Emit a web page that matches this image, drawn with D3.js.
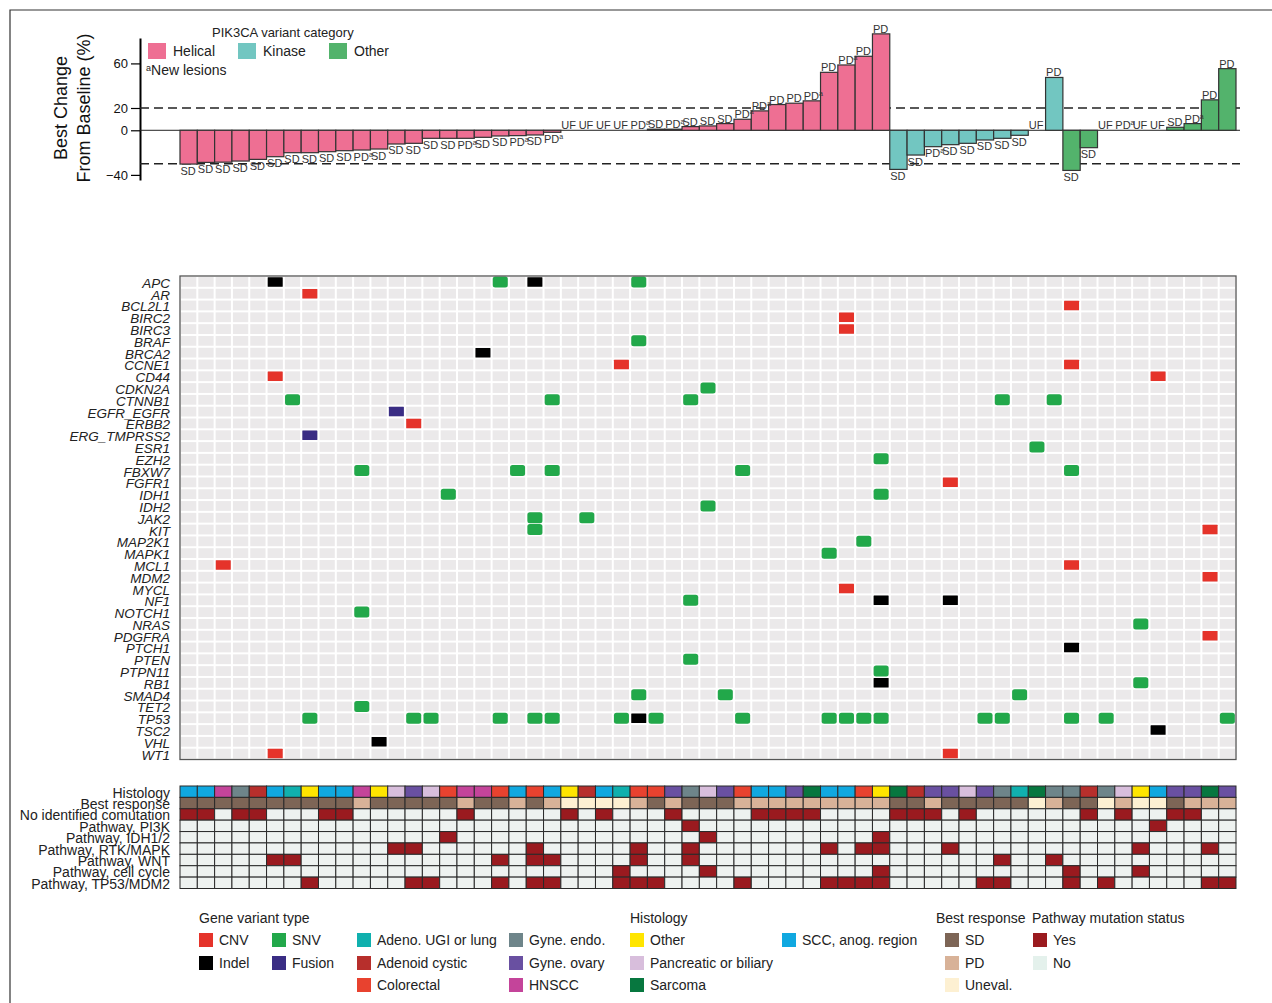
<!DOCTYPE html>
<html>
<head>
<meta charset="utf-8">
<script src="https://cdn.jsdelivr.net/npm/d3@7"></script>
<style>
  body { margin: 0; background: #fff; }
  svg { display: block; font-family: "Liberation Sans", Arial, sans-serif; }
</style>
</head>
<body>
<svg id="chart" width="1272" height="1003"></svg>
<script>
// ---- data ----
const bestChange = [
  -30.3, -28.8, -28.6, -27.6, -26.1, -23.7, -20.1, -20.1, -19.2, -18.3,
  -17.7, -16.8, -12.3, -11.7, -7.2, -7.2, -7.2, -6.3, -5.1, -4.8,
  -4.2, -1.8, 0, 0, 0, 0, 0, 1, 1, 3.3,
  3.9, 6, 9.9, 17.4, 23.1, 24.3, 26.4, 52, 58.6, 66.4,
  86.5, -35.1, -22.2, -14.7, -12.9, -11.7, -8.7, -7.2, -4.5, 0,
  47.4, -36, -15.6, 0, 0, 0, 0, 2.7, 6, 27.3,
  55.3
];
const variantCategory = [
  "Helical","Helical","Helical","Helical","Helical","Helical","Helical","Helical","Helical","Helical",
  "Helical","Helical","Helical","Helical","Helical","Helical","Helical","Helical","Helical","Helical",
  "Helical","Helical","Helical","Helical","Helical","Helical","Helical","Helical","Helical","Helical",
  "Helical","Helical","Helical","Helical","Helical","Helical","Helical","Helical","Helical","Helical",
  "Helical","Kinase","Kinase","Kinase","Kinase","Kinase","Kinase","Kinase","Kinase","Kinase",
  "Kinase","Other","Other","Other","Other","Other","Other","Other","Other","Other",
  "Other"
];
const responseLabels = [
  "SD","SD","SD","SD","SD","SD","SD","SD","SD","SD",
  "PD","SD","SD","SD","SD","SD","PD","SD","SD","PD",
  "SD","PD","UF","UF","UF","UF","PD","SD","PD","SD",
  "SD","SD","PD","PD","PD","PD","PD","PD","PD","PD",
  "PD","SD","SD","PD","SD","SD","SD","SD","SD","UF",
  "PD","SD","SD","UF","PD","UF","UF","SD","PD","PD",
  "PD"
];
const newLesions = [10, 16, 19, 21, 26, 28, 32, 33, 36, 38, 43, 54, 58];

const histology = [
  "SCC","SCC","HNSCC","GyneEndo","AdenoidCystic","SCC","AdenoUGI","Other","SCC","SCC",
  "HNSCC","Other","Pancreatic","GyneOvary","Pancreatic","Colorectal","HNSCC","HNSCC","Colorectal","SCC",
  "Colorectal","SCC","Other","AdenoidCystic","SCC","AdenoUGI","Colorectal","Colorectal","GyneOvary","GyneEndo",
  "Pancreatic","GyneOvary","Colorectal","SCC","SCC","GyneOvary","Sarcoma","SCC","SCC","Colorectal",
  "Other","Sarcoma","AdenoidCystic","GyneOvary","GyneOvary","Pancreatic","GyneOvary","GyneEndo","AdenoUGI","Sarcoma",
  "GyneEndo","GyneEndo","AdenoidCystic","GyneEndo","Pancreatic","Other","SCC","GyneOvary","GyneOvary","Sarcoma",
  "GyneOvary"
];

const genes = ["APC","AR","BCL2L1","BIRC2","BIRC3","BRAF","BRCA2","CCNE1","CD44","CDKN2A",
  "CTNNB1","EGFR_EGFR","ERBB2","ERG_TMPRSS2","ESR1","EZH2","FBXW7","FGFR1","IDH1","IDH2",
  "JAK2","KIT","MAP2K1","MAPK1","MCL1","MDM2","MYCL","NF1","NOTCH1","NRAS",
  "PDGFRA","PTCH1","PTEN","PTPN11","RB1","SMAD4","TET2","TP53","TSC2","VHL","WT1"];

const snvHits = [
  ["APC",18],["APC",26],["BRAF",26],["CDKN2A",30],
  ["CTNNB1",6],["CTNNB1",21],["CTNNB1",29],["CTNNB1",47],["CTNNB1",50],
  ["ESR1",49],["EZH2",40],
  ["FBXW7",10],["FBXW7",19],["FBXW7",21],["FBXW7",32],["FBXW7",51],
  ["IDH1",15],["IDH1",40],["IDH2",30],["JAK2",20],["JAK2",23],["KIT",20],
  ["MAP2K1",39],["MAPK1",37],["NF1",29],["NOTCH1",10],["NRAS",55],["PTEN",29],
  ["PTPN11",40],["RB1",55],["SMAD4",26],["SMAD4",31],["SMAD4",48],["TET2",10],
  ["TP53",7],["TP53",13],["TP53",14],["TP53",18],["TP53",20],["TP53",21],["TP53",25],
  ["TP53",27],["TP53",32],["TP53",37],["TP53",38],["TP53",39],["TP53",40],["TP53",46],
  ["TP53",47],["TP53",51],["TP53",53],["TP53",60]
];
const cnvHits = [
  ["AR",7],["BCL2L1",51],["BIRC2",38],["BIRC3",38],["CCNE1",25],["CCNE1",51],
  ["CD44",5],["CD44",56],["ERBB2",13],["FGFR1",44],["KIT",59],["MCL1",2],["MCL1",51],
  ["MDM2",59],["MYCL",38],["PDGFRA",59],["WT1",5],["WT1",44]
];
const indelHits = [
  ["APC",5],["APC",20],["BRCA2",17],["NF1",40],["NF1",44],["PTCH1",51],["RB1",40],
  ["TP53",26],["TSC2",56],["VHL",11]
];
const fusionHits = [["EGFR_EGFR",12],["ERG_TMPRSS2",7]];

const trackNames = ["Histology","Best response","No identified comutation","Pathway, PI3K",
  "Pathway, IDH1/2","Pathway, RTK/MAPK","Pathway, WNT","Pathway, cell cycle","Pathway, TP53/MDM2"];
const noComutation = [0,1,3,4,8,9,16,22,24,28,33,34,35,36,41,42,43,45,52,54,57,58];
const pathPI3K = [29,56];
const pathIDH = [15,30,40];
const pathRTK = [12,13,20,26,29,37,39,40,44,55,59];
const pathWNT = [5,6,18,20,21,26,29,47,50];
const pathCellCycle = [25,30,40,51,55];
const pathTP53 = [7,13,14,18,20,21,25,26,27,32,37,38,39,40,46,47,51,53,59,60];

const yTicks = [-40, 0, 20, 60];

// ---- styles ----
const variantColors = { Helical: "#ee6f93", Kinase: "#72c6c1", Other: "#53b36c" };
const mutColors = { CNV: "#e5332a", SNV: "#22a84a", Indel: "#000000", Fusion: "#3a2d84" };
const histColors = {
  AdenoUGI: "#10b0ae", AdenoidCystic: "#b72f2c", Colorectal: "#e8422f",
  GyneEndo: "#6e858a", GyneOvary: "#6950a1", HNSCC: "#c4449a",
  Other: "#ffe500", Pancreatic: "#d8bedc", Sarcoma: "#07773f", SCC: "#10a8e0"
};
const respColors = { SD: "#7d6556", PD: "#d8b298", UF: "#fdf0d2" };
const yesColor = "#9a1a1f", noColor = "#eef2f0";

const svg = d3.select("#chart");
const font = "\"Liberation Sans\", Arial, sans-serif";

svg.append("path")
  .attr("d", "M10,1003V10H1272")
  .attr("fill", "none")
  .attr("stroke", "#333")
  .attr("stroke-width", 1.2);

const patients = bestChange.map((d, i) => i);
const x = d3.scaleBand().domain(patients).range([180, 1236]);

// ---- waterfall ----
const y = d3.scaleLinear().domain([-44.6, 82.8]).range([180, 38]);
const wf = svg.append("g");

const yAxis = wf.append("g")
  .attr("transform", "translate(140,0)")
  .call(d3.axisLeft(y).tickValues(yTicks).tickSize(9).tickSizeOuter(0).tickPadding(3));
yAxis.select(".domain").attr("stroke-width", 2);
yAxis.selectAll(".tick line").attr("stroke-width", 1.2);
yAxis.selectAll("text").attr("font-size", 13).attr("font-family", font).attr("fill", "#111");

const axisTitle = wf.append("text")
  .attr("transform", "translate(67,108) rotate(-90)")
  .attr("text-anchor", "middle")
  .attr("font-size", 18)
  .attr("fill", "#111");
axisTitle.append("tspan").attr("x", 0).attr("y", 0).text("Best Change");
axisTitle.append("tspan").attr("x", 0).attr("y", 23).text("From Baseline (%)");

[20, -30].forEach(v => {
  wf.append("line")
    .attr("x1", 140).attr("x2", 1240)
    .attr("y1", y(v)).attr("y2", y(v))
    .attr("stroke", "#222")
    .attr("stroke-width", 1.4)
    .attr("stroke-dasharray", "9,5");
});

wf.append("line")
  .attr("x1", 140).attr("x2", 1240)
  .attr("y1", y(0)).attr("y2", y(0))
  .attr("stroke", "#222")
  .attr("stroke-width", 1);

wf.selectAll("rect.bar")
  .data(patients)
  .enter()
  .append("rect")
  .attr("class", "bar")
  .attr("x", d => x(d))
  .attr("width", x.bandwidth())
  .attr("y", d => y(Math.max(0, bestChange[d])))
  .attr("height", d => Math.abs(y(bestChange[d]) - y(0)))
  .attr("fill", d => variantColors[variantCategory[d]])
  .attr("stroke", "#333")
  .attr("stroke-width", 1.2);

const barLabels = wf.selectAll("text.blab")
  .data(patients)
  .enter()
  .append("text")
  .attr("class", "blab")
  .attr("x", d => x(d) + 0.5)
  .attr("y", d => {
    const v = bestChange[d];
    return v < 0 ? y(v) + 10.5 : y(v) - 1;
  })
  .attr("font-size", 11)
  .attr("fill", "#333");
barLabels.append("tspan").text(d => responseLabels[d]);
barLabels.filter(d => newLesions.includes(d))
  .append("tspan")
  .attr("font-size", 7)
  .attr("dy", -4)
  .text("a");

// top legend
const topLeg = svg.append("g");
topLeg.append("text").attr("x", 212).attr("y", 37).attr("font-size", 13).attr("fill", "#222")
  .text("PIK3CA variant category");
[["Helical", 148], ["Kinase", 238], ["Other", 329]].forEach(([k, lx]) => {
  topLeg.append("rect").attr("x", lx).attr("y", 43).attr("width", 18).attr("height", 16)
    .attr("fill", variantColors[k]);
  topLeg.append("text").attr("x", lx + 25).attr("y", 56).attr("font-size", 14).attr("fill", "#222").text(k);
});
const nl = topLeg.append("text").attr("x", 146).attr("y", 75).attr("font-size", 14).attr("fill", "#222");
nl.append("tspan").attr("font-size", 9).attr("dy", -4).text("a");
nl.append("tspan").attr("dy", 4).text("New lesions");

// ---- oncoprint ----
const gy = d3.scaleBand().domain(genes).range([276, 759.5]);
const onco = svg.append("g");

const cells = [];
genes.forEach(g => patients.forEach(p => cells.push([g, p])));
onco.selectAll("rect.cell")
  .data(cells)
  .enter()
  .append("rect")
  .attr("class", "cell")
  .attr("x", d => x(d[1]) + 1)
  .attr("y", d => gy(d[0]) + 1)
  .attr("width", x.bandwidth() - 2)
  .attr("height", gy.bandwidth() - 2)
  .attr("fill", "#ebe9ea");

function drawHits(hits, type) {
  const w = 15, h = type === "SNV" ? 11 : 9.5;
  onco.selectAll("rect.hit-" + type)
    .data(hits)
    .enter()
    .append("rect")
    .attr("class", "hit-" + type)
    .attr("x", d => x(d[1]) + (x.bandwidth() - w) / 2)
    .attr("y", d => gy(d[0]) + (gy.bandwidth() - h) / 2)
    .attr("width", w)
    .attr("height", h)
    .attr("rx", type === "SNV" ? 2.5 : 0.5)
    .attr("fill", mutColors[type]);
}
drawHits(cnvHits, "CNV");
drawHits(snvHits, "SNV");
drawHits(indelHits, "Indel");
drawHits(fusionHits, "Fusion");

onco.append("rect")
  .attr("x", 180).attr("y", 276)
  .attr("width", 1056).attr("height", 483.5)
  .attr("fill", "none")
  .attr("stroke", "#555")
  .attr("stroke-width", 1.3);

onco.selectAll("text.gene")
  .data(genes)
  .enter()
  .append("text")
  .attr("class", "gene")
  .attr("x", 170)
  .attr("y", d => gy(d) + gy.bandwidth() / 2 + 6)
  .attr("text-anchor", "end")
  .attr("font-size", 13.5)
  .attr("font-style", "italic")
  .attr("fill", "#222")
  .text(d => d);

// ---- annotation tracks ----
const ty = d3.scaleBand().domain(trackNames).range([786, 888.5]);
const trackSets = {
  "No identified comutation": noComutation,
  "Pathway, PI3K": pathPI3K,
  "Pathway, IDH1/2": pathIDH,
  "Pathway, RTK/MAPK": pathRTK,
  "Pathway, WNT": pathWNT,
  "Pathway, cell cycle": pathCellCycle,
  "Pathway, TP53/MDM2": pathTP53
};
function trackFill(t, p) {
  if (t === "Histology") return histColors[histology[p]];
  if (t === "Best response") return respColors[responseLabels[p]];
  return trackSets[t].includes(p) ? yesColor : noColor;
}
const trk = svg.append("g");
const tcells = [];
trackNames.forEach(t => patients.forEach(p => tcells.push([t, p])));
trk.selectAll("rect.tcell")
  .data(tcells)
  .enter()
  .append("rect")
  .attr("class", "tcell")
  .attr("x", d => x(d[1]))
  .attr("y", d => ty(d[0]))
  .attr("width", x.bandwidth())
  .attr("height", ty.bandwidth())
  .attr("fill", d => trackFill(d[0], d[1]))
  .attr("stroke", "#2a2a2a")
  .attr("stroke-width", 1);

trk.selectAll("text.tname")
  .data(trackNames)
  .enter()
  .append("text")
  .attr("class", "tname")
  .attr("x", 170)
  .attr("y", d => ty(d) + ty.bandwidth() / 2 + 6)
  .attr("text-anchor", "end")
  .attr("font-size", 14)
  .attr("fill", "#222")
  .text(d => d);

// ---- bottom legend ----
const leg = svg.append("g").attr("font-size", 14).attr("fill", "#222");
const rowY = [940, 963, 985];
[["Gene variant type", 199], ["Histology", 630], ["Best response", 936], ["Pathway mutation status", 1032]]
  .forEach(([t, lx]) => leg.append("text").attr("x", lx).attr("y", 923).text(t));

const legendItems = [
  [199, 0, mutColors.CNV, "CNV"], [199, 1, mutColors.Indel, "Indel"],
  [272, 0, mutColors.SNV, "SNV"], [272, 1, mutColors.Fusion, "Fusion"],
  [357, 0, histColors.AdenoUGI, "Adeno. UGI or lung"], [357, 1, histColors.AdenoidCystic, "Adenoid cystic"],
  [357, 2, histColors.Colorectal, "Colorectal"],
  [509, 0, histColors.GyneEndo, "Gyne. endo."], [509, 1, histColors.GyneOvary, "Gyne. ovary"],
  [509, 2, histColors.HNSCC, "HNSCC"],
  [630, 0, histColors.Other, "Other"], [630, 1, histColors.Pancreatic, "Pancreatic or biliary"],
  [630, 2, histColors.Sarcoma, "Sarcoma"],
  [782, 0, histColors.SCC, "SCC, anog. region"],
  [945, 0, respColors.SD, "SD"], [945, 1, respColors.PD, "PD"], [945, 2, respColors.UF, "Uneval."],
  [1033, 0, yesColor, "Yes"], [1033, 1, "#e4f1ec", "No"]
];
legendItems.forEach(([lx, r, c, t]) => {
  leg.append("rect").attr("x", lx).attr("y", rowY[r] - 7).attr("width", 14).attr("height", 14).attr("fill", c);
  leg.append("text").attr("x", lx + 20).attr("y", rowY[r] + 5).text(t);
});
</script>
</body>
</html>
